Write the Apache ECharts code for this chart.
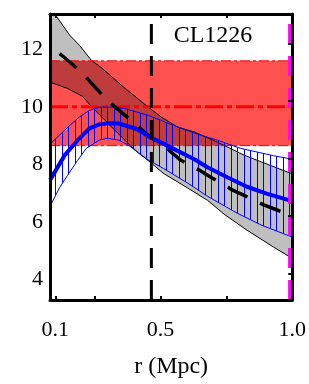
<!DOCTYPE html>
<html><head><meta charset="utf-8">
<script src="https://cdn.jsdelivr.net/npm/echarts@6/dist/echarts.min.js"></script>
<style>html,body{margin:0;padding:0;background:#fff}#c{width:309px;height:384px}</style>
</head><body><div id="c"></div>
<script>
// ---- axes ----
const xMin = 0.08, xMax = 1.0;
const yMin = 3.28, yMax = 13.23;
const xLabelValues = [0.1, 0.5, 1.0];
const xTickValues = [0.1, 0.25, 0.5, 0.75, 1.0];
const yLabelValues = [4, 6, 8, 10, 12];
const yRightTickValues = [4.2, 6.2, 8.2, 10.2, 12.2];
const clusterName = 'CL1226';
const xTitle = 'r (Mpc)';

// ---- red reference band ----
const redBand = [8.65, 11.6];
const redLineValue = 10.0;

// ---- vertical markers ----
const blackVLine = 0.465;
const magentaVLine = 0.99;

// ---- grey band (black dashed model) ----
const greyCenterR = [0.080, 0.099, 0.121, 0.196, 0.233, 0.297, 0.346, 0.409, 0.461, 0.510, 0.577, 0.648, 0.697, 0.768, 0.817, 0.892, 0.940, 0.985, 1.0];
const greyCenterV = [12.1, 11.97, 11.82, 11.24, 10.87, 10.23, 9.85, 9.36, 8.94, 8.66, 8.14, 7.79, 7.52, 7.13, 6.92, 6.59, 6.42, 6.26, 6.22];
const greyUpperR = [0.08, 0.099, 0.155, 0.192, 0.237, 0.278, 0.360, 0.398, 0.445, 0.503, 0.566, 0.630, 0.716, 0.817, 0.892, 0.985, 1.0];
const greyUpperV = [13.5, 13.22, 12.49, 12.14, 11.62, 11.34, 10.68, 10.40, 10.05, 9.64, 9.29, 9.12, 8.77, 8.32, 8.05, 7.72, 7.68];
const greyLowerR = [0.080, 0.144, 0.203, 0.237, 0.304, 0.372, 0.417, 0.461, 0.510, 0.604, 0.678, 0.742, 0.828, 0.929, 1.0];
const greyLowerV = [10.86, 10.65, 10.37, 10.02, 9.39, 8.77, 8.39, 8.07, 7.69, 7.17, 6.75, 6.26, 5.71, 5.12, 4.73];

// ---- blue band (hatched) ----
const blueLineR = [0.08, 0.136, 0.185, 0.230, 0.267, 0.304, 0.342, 0.409, 0.454, 0.510, 0.630, 0.678, 0.753, 0.828, 0.903, 1.0];
const blueLineV = [7.45, 8.32, 8.84, 9.25, 9.39, 9.43, 9.42, 9.23, 8.98, 8.72, 8.17, 7.90, 7.55, 7.22, 6.98, 6.72];
const blueUpperR = [0.08, 0.136, 0.185, 0.230, 0.267, 0.312, 0.360, 0.417, 0.454, 0.529, 0.630, 0.716, 0.802, 0.929, 1.0];
const blueUpperV = [8.70, 9.19, 9.60, 9.88, 9.99, 9.99, 9.95, 9.80, 9.70, 9.43, 9.08, 8.84, 8.56, 8.30, 8.18];
const blueLowerR = [0.08, 0.117, 0.147, 0.185, 0.218, 0.267, 0.297, 0.342, 0.379, 0.417, 0.454, 0.510, 0.604, 0.678, 0.791, 0.884, 1.0];
const blueLowerV = [6.54, 7.20, 7.62, 8.14, 8.56, 8.84, 8.91, 8.84, 8.66, 8.39, 8.15, 7.86, 7.34, 6.89, 6.30, 5.88, 5.47];

const FONT = 'Liberation Serif';
const pairs = (r, v) => r.map((x, i) => [x, v[i]]);

// hatch pattern
const hatch = document.createElement('canvas');
hatch.width = 13; hatch.height = 4;
const hc = hatch.getContext('2d');
hc.fillStyle = '#0000ff';
hc.fillRect(10, 0, 1, 4);
hc.fillRect(3, 0, 1, 4);

function bandSeries(upR, upV, loR, loV, style, z) {
  return {
    type: 'custom', z: z, clip: true, silent: true,
    data: [[0.5, 8]],
    renderItem: function (params, api) {
      const pts = [];
      for (let i = 0; i < upR.length; i++) pts.push(api.coord([upR[i], upV[i]]));
      for (let i = loR.length - 1; i >= 0; i--) pts.push(api.coord([loR[i], loV[i]]));
      return { type: 'polygon', shape: { points: pts }, style: style };
    }
  };
}

const chart = echarts.init(document.getElementById('c'), null, { renderer: 'canvas' });
const axisLine = { show: true, lineStyle: { color: '#000', width: 3 } };
chart.setOption({
  animation: false,
  backgroundColor: '#fff',
  grid: { left: 50, right: 13, top: 14, bottom: 84 },
  graphic: [{
    type: 'text', x: 213, y: 36, z: 100,
    style: { text: clusterName, font: '24px "' + FONT + '"', fill: '#000', align: 'center', verticalAlign: 'middle' }
  }],
  xAxis: [{
    type: 'value', min: xMin, max: xMax, position: 'bottom', z: 10,
    axisLine: axisLine,
    splitLine: { show: false },
    axisTick: { show: true, inside: true, length: 4, customValues: xTickValues, lineStyle: { width: 2, color: '#000' } },
    axisLabel: { customValues: xLabelValues, formatter: v => v.toFixed(1), fontFamily: FONT, fontSize: 22, color: '#000', margin: 19 },
    name: xTitle, nameLocation: 'middle', nameGap: 55,
    nameTextStyle: { fontFamily: FONT, fontSize: 24, color: '#000' }
  }, {
    type: 'value', min: xMin, max: xMax, position: 'top', z: 10,
    axisLine: axisLine, splitLine: { show: false },
    axisTick: { show: true, inside: true, length: 4, customValues: xTickValues, lineStyle: { width: 2, color: '#000' } },
    axisLabel: { show: false }
  }],
  yAxis: [{
    type: 'value', min: yMin, max: yMax, position: 'left', z: 10,
    axisLine: axisLine, splitLine: { show: false },
    axisTick: { show: false },
    axisLabel: { customValues: yLabelValues, fontFamily: FONT, fontSize: 22, color: '#000', margin: 7 }
  }, {
    type: 'value', min: yMin, max: yMax, position: 'right', z: 10,
    axisLine: axisLine, splitLine: { show: false },
    axisTick: { show: true, inside: true, length: 4, customValues: yRightTickValues, lineStyle: { width: 2, color: '#000' } },
    axisLabel: { show: false }
  }],
  series: [
    // red band
    {
      type: 'custom', z: 1, clip: true, silent: true, data: [[0.5, 10]],
      renderItem: function (params, api) {
        const a = api.coord([xMin, redBand[1]]);
        const b = api.coord([xMax, redBand[0]]);
        return { type: 'rect', shape: { x: a[0], y: a[1], width: b[0] - a[0], height: b[1] - a[1] }, style: { fill: '#ff5050' } };
      }
    },
    // grey band
    bandSeries(greyUpperR, greyUpperV, greyLowerR, greyLowerV, { fill: 'rgba(0,0,0,0.25)', stroke: '#000', lineWidth: 1 }, 2),
    // red band edges
    { type: 'line', z: 3, symbol: 'none', silent: true, data: [[xMin, redBand[0]], [xMax, redBand[0]]], lineStyle: { color: '#ee0000', width: 1, type: [10, 3, 3, 3] } },
    { type: 'line', z: 3, symbol: 'none', silent: true, data: [[xMin, redBand[1]], [xMax, redBand[1]]], lineStyle: { color: '#ee0000', width: 1, type: [10, 3, 3, 3] } },
    // red dash-dot line
    { type: 'line', z: 3, symbol: 'none', silent: true, data: [[xMin, redLineValue], [xMax, redLineValue]], lineStyle: { color: '#ff0000', width: 3, type: [18, 4, 5, 4] } },
    // blue hatched band
    bandSeries(blueUpperR, blueUpperV, blueLowerR, blueLowerV, { fill: { image: hatch, repeat: 'repeat' }, stroke: '#0000ff', lineWidth: 1 }, 4),
    // black dashed model line
    { type: 'line', z: 5, symbol: 'none', silent: true, data: pairs(greyCenterR, greyCenterV), lineStyle: { color: '#000', width: 3.5, type: [22, 14], dashOffset: 24 } },
    // blue thick line
    { type: 'line', z: 6, symbol: 'none', silent: true, data: pairs(blueLineR, blueLineV), lineStyle: { color: '#0000ff', width: 4 } },
    // vertical lines
    { type: 'line', z: 7, symbol: 'none', silent: true, data: [[blackVLine, yMin], [blackVLine, yMax]], lineStyle: { color: '#000', width: 3, type: [20, 12] } },
    { type: 'line', z: 7, symbol: 'none', silent: true, data: [[magentaVLine, yMin], [magentaVLine, yMax]], lineStyle: { color: '#ff00ff', width: 3, type: [20, 12] } }
  ]
});
</script></body></html>
